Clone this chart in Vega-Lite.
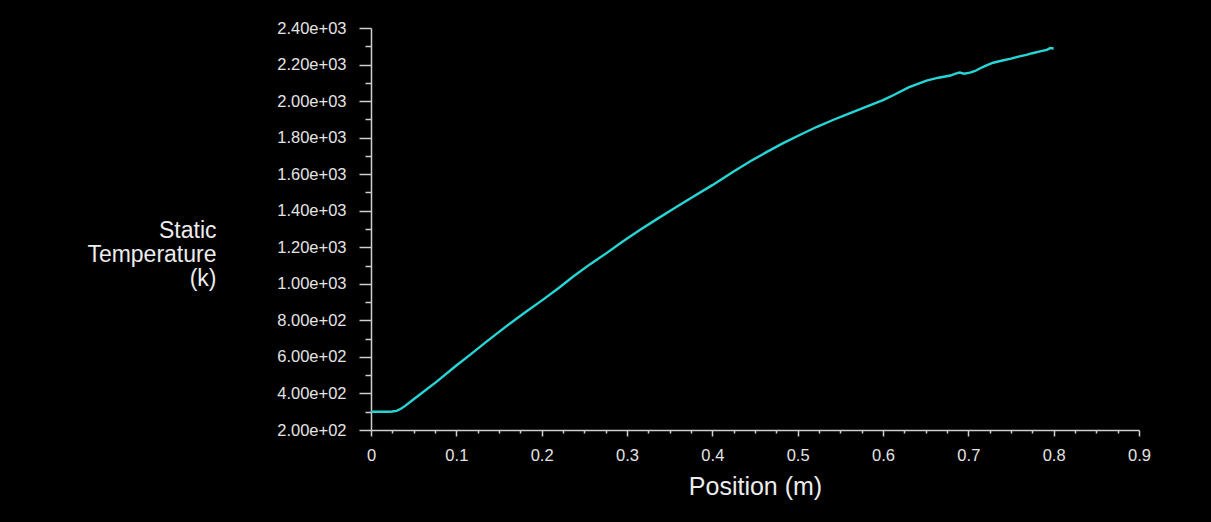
{
  "$schema": "https://vega.github.io/schema/vega-lite/v6.json",
  "autosize": "none",
  "width": 768,
  "height": 402,
  "padding": {"left": 371, "top": 28, "right": 72, "bottom": 92},
  "background": "#000000",
  "config": {
    "view": {"stroke": null},
    "axis": {
      "grid": false,
      "labelFont": "Liberation Sans",
      "titleFont": "Liberation Sans",
      "labelColor": "#e4e4e4",
      "titleColor": "#ececec",
      "titleFontWeight": "normal",
      "domainColor": "#cfcfcf",
      "tickColor": "#cfcfcf",
      "domainWidth": 1.5,
      "tickWidth": 1.5
    }
  },
  "data": {
    "values": [
      {"position": 0, "temperature": 300},
      {"position": 0.01, "temperature": 300},
      {"position": 0.02, "temperature": 300},
      {"position": 0.025, "temperature": 301},
      {"position": 0.03, "temperature": 305},
      {"position": 0.035, "temperature": 316},
      {"position": 0.04, "temperature": 332},
      {"position": 0.05, "temperature": 368},
      {"position": 0.06, "temperature": 404},
      {"position": 0.077, "temperature": 465},
      {"position": 0.1, "temperature": 553},
      {"position": 0.116, "temperature": 611},
      {"position": 0.135, "temperature": 682},
      {"position": 0.155, "temperature": 755},
      {"position": 0.18, "temperature": 842},
      {"position": 0.2, "temperature": 908},
      {"position": 0.22, "temperature": 977},
      {"position": 0.237, "temperature": 1040},
      {"position": 0.256, "temperature": 1105},
      {"position": 0.276, "temperature": 1168},
      {"position": 0.295, "temperature": 1232},
      {"position": 0.315, "temperature": 1295},
      {"position": 0.335, "temperature": 1354},
      {"position": 0.354, "temperature": 1409},
      {"position": 0.375, "temperature": 1470},
      {"position": 0.4, "temperature": 1540},
      {"position": 0.425, "temperature": 1615},
      {"position": 0.445, "temperature": 1672},
      {"position": 0.464, "temperature": 1722},
      {"position": 0.483, "temperature": 1770},
      {"position": 0.503, "temperature": 1816},
      {"position": 0.522, "temperature": 1858},
      {"position": 0.542, "temperature": 1898},
      {"position": 0.56, "temperature": 1932},
      {"position": 0.58, "temperature": 1968},
      {"position": 0.6, "temperature": 2005},
      {"position": 0.612, "temperature": 2032},
      {"position": 0.63, "temperature": 2075},
      {"position": 0.651, "temperature": 2112},
      {"position": 0.665, "temperature": 2128},
      {"position": 0.679, "temperature": 2140},
      {"position": 0.685, "temperature": 2150},
      {"position": 0.69, "temperature": 2156},
      {"position": 0.695, "temperature": 2150},
      {"position": 0.702, "temperature": 2156},
      {"position": 0.708, "temperature": 2165},
      {"position": 0.714, "temperature": 2180},
      {"position": 0.72, "temperature": 2193},
      {"position": 0.729, "temperature": 2210},
      {"position": 0.74, "temperature": 2222},
      {"position": 0.75, "temperature": 2232},
      {"position": 0.76, "temperature": 2245},
      {"position": 0.768, "temperature": 2253},
      {"position": 0.775, "temperature": 2262},
      {"position": 0.784, "temperature": 2272},
      {"position": 0.792, "temperature": 2280},
      {"position": 0.796, "temperature": 2290},
      {"position": 0.8, "temperature": 2288}
    ]
  },
  "resolve": {"axis": {"x": "independent", "y": "independent"}},
  "layer": [
    {
      "mark": {"type": "line", "opacity": 0},
      "encoding": {
        "x": {
          "field": "position", "type": "quantitative",
          "scale": {"domain": [0, 0.9], "nice": false},
          "axis": {
            "orient": "bottom", "title": null, "labels": false, "domain": false,
            "tickSize": 3,
            "values": [0.025, 0.05, 0.075, 0.125, 0.15, 0.175, 0.225, 0.25, 0.275, 0.325, 0.35, 0.375, 0.425, 0.45, 0.475, 0.525, 0.55, 0.575, 0.625, 0.65, 0.675, 0.725, 0.75, 0.775, 0.825, 0.85, 0.875]
          }
        },
        "y": {
          "field": "temperature", "type": "quantitative",
          "scale": {"domain": [200, 2400], "nice": false, "zero": false},
          "axis": {
            "orient": "left", "title": null, "labels": false, "domain": false,
            "tickSize": 6,
            "values": [300, 500, 700, 900, 1100, 1300, 1500, 1700, 1900, 2100, 2300]
          }
        }
      }
    },
    {
      "mark": {"type": "line", "color": "#26d6d6", "strokeWidth": 2.4},
      "encoding": {
        "x": {
          "field": "position", "type": "quantitative",
          "scale": {"domain": [0, 0.9], "nice": false},
          "axis": {
            "orient": "bottom",
            "title": "Position (m)",
            "titleFontSize": 25,
            "titlePadding": 11,
            "labelFontSize": 16.5,
            "labelPadding": 11,
            "tickSize": 6,
            "labelFlush": false,
            "labelOverlap": false,
            "values": [0, 0.1, 0.2, 0.3, 0.4, 0.5, 0.6, 0.7, 0.8, 0.9],
            "labelExpr": "datum.value == 0 ? '0' : format(datum.value, '.1f')"
          }
        },
        "y": {
          "field": "temperature", "type": "quantitative",
          "scale": {"domain": [200, 2400], "nice": false, "zero": false},
          "axis": {
            "orient": "left",
            "title": ["Static", "Temperature", "(k)"],
            "titleFontSize": 23,
            "titleLineHeight": 24,
            "titleAngle": 0,
            "titleAlign": "right",
            "titleBaseline": "middle",
            "titleX": -155,
            "titleY": 202,
            "labelFontSize": 16.5,
            "labelPadding": 13,
            "tickSize": 12,
            "labelOverlap": false,
            "labelFlush": false,
            "values": [200, 400, 600, 800, 1000, 1200, 1400, 1600, 1800, 2000, 2200, 2400],
            "labelExpr": "datum.value < 1000 ? format(datum.value / 100, '.2f') + 'e+02' : format(datum.value / 1000, '.2f') + 'e+03'"
          }
        }
      }
    }
  ]
}
